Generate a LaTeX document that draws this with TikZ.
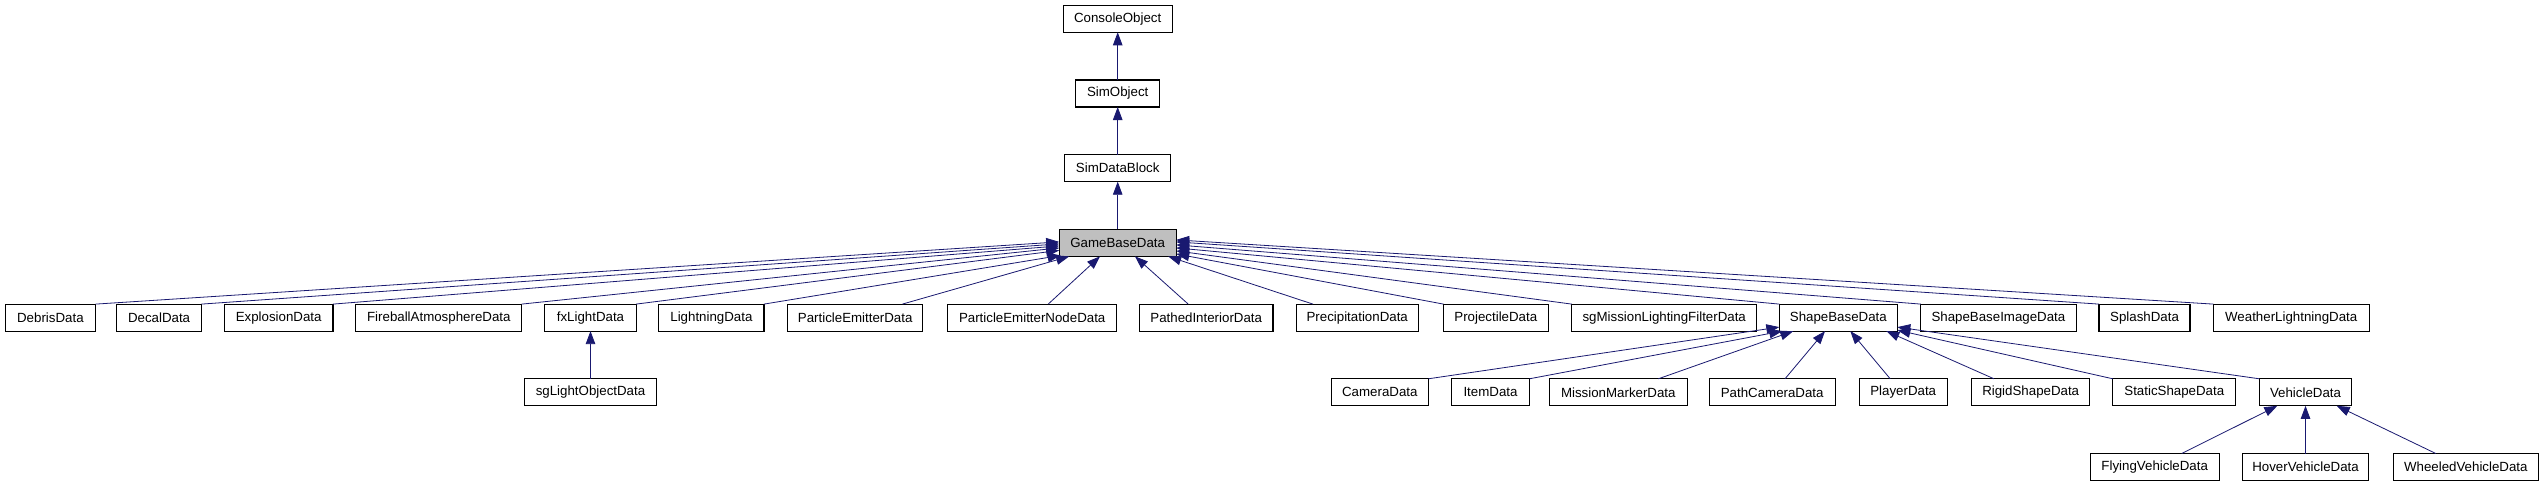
\documentclass[tikz,border=0pt]{standalone}
\usepackage{fontspec}
\setmainfont{Liberation Sans}
\usetikzlibrary{arrows.meta}
\definecolor{edgeblue}{HTML}{191970}
\definecolor{gbdgray}{HTML}{BFBFBF}
\tikzset{
  cls/.style={draw=black, line width=1.1pt, fill=white, minimum height=27pt,
    inner sep=0pt, outer sep=0pt, font=\fontsize{13.3}{16}\selectfont, anchor=center},
  inh/.style={draw=edgeblue, line width=0.8pt, -{Triangle[length=13pt,width=9.5pt]}}
}
\begin{document}
\begin{tikzpicture}[x=1pt,y=-1pt]
\useasboundingbox[fill=white] (0,0) rectangle (2545,485);
% row 0-3
\node[cls, minimum width=109pt] (console) at (1117.7,18.8) {ConsoleObject};
\node[cls, minimum width=84pt] (simobj) at (1117.7,93.5) {SimObject};
\node[cls, minimum width=106pt] (simdb) at (1117.7,168.2) {SimDataBlock};
\node[cls, minimum width=117pt, fill=gbdgray] (gbd) at (1117.7,242.9) {GameBaseData};
% row 4
\node[cls, minimum width=90.6pt] (debris) at (50.4,317.6) {DebrisData};
\node[cls, minimum width=84.8pt] (decal) at (159.1,317.6) {DecalData};
\node[cls, minimum width=108.5pt] (explosion) at (278.7,317.6) {ExplosionData};
\node[cls, minimum width=165.8pt] (fireball) at (438.8,317.6) {FireballAtmosphereData};
\node[cls, minimum width=91.2pt] (fxlight) at (590.5,317.6) {fxLightData};
\node[cls, minimum width=105.2pt] (lightning) at (711.4,317.6) {LightningData};
\node[cls, minimum width=135.2pt] (pemit) at (855.2,317.6) {ParticleEmitterData};
\node[cls, minimum width=169.1pt] (penode) at (1032.2,317.6) {ParticleEmitterNodeData};
\node[cls, minimum width=133.6pt] (pathed) at (1206.2,317.6) {PathedInteriorData};
\node[cls, minimum width=122pt] (precip) at (1357.2,317.6) {PrecipitationData};
\node[cls, minimum width=104.7pt] (projectile) at (1495.8,317.6) {ProjectileData};
\node[cls, minimum width=185pt] (sgmission) at (1664.2,317.6) {sgMissionLightingFilterData};
\node[cls, minimum width=118pt] (shapebase) at (1838.3,317.6) {ShapeBaseData};
\node[cls, minimum width=155.3pt] (sbimage) at (1998.4,317.6) {ShapeBaseImageData};
\node[cls, minimum width=91pt] (splash) at (2144.5,317.6) {SplashData};
\node[cls, minimum width=155.7pt] (weather) at (2291.2,317.6) {WeatherLightningData};
% row 5
\node[cls, minimum width=132.3pt] (sglight) at (590.5,392.3) {sgLightObjectData};
\node[cls, minimum width=97pt] (camera) at (1379.8,392.3) {CameraData};
\node[cls, minimum width=77.7pt] (item) at (1490.5,392.3) {ItemData};
\node[cls, minimum width=138pt] (mmarker) at (1618.3,392.3) {MissionMarkerData};
\node[cls, minimum width=125.7pt] (pathcam) at (1772.2,392.3) {PathCameraData};
\node[cls, minimum width=88pt] (player) at (1903.2,392.3) {PlayerData};
\node[cls, minimum width=118pt] (rigid) at (2030.7,392.3) {RigidShapeData};
\node[cls, minimum width=123pt] (static) at (2174.3,392.3) {StaticShapeData};
\node[cls, minimum width=92.4pt] (vehicle) at (2305.5,392.3) {VehicleData};
% row 6
\node[cls, minimum width=129pt] (flying) at (2154.7,467) {FlyingVehicleData};
\node[cls, minimum width=126pt] (hover) at (2305.5,467) {HoverVehicleData};
\node[cls, minimum width=145pt] (wheeled) at (2465.8,467) {WheeledVehicleData};
% chain
\draw[inh] (simobj.north) -- (console.south);
\draw[inh] (simdb.north) -- (simobj.south);
\draw[inh] (gbd.north) -- (simdb.south);
% left group
\draw[inh] (debris.north east) -- ([yshift=1pt]gbd.west);
\draw[inh] (decal.north east) -- ([yshift=-1pt]gbd.west);
\draw[inh] (explosion.north east) -- ([yshift=-3pt]gbd.west);
\draw[inh] (fireball.north east) -- ([yshift=-5pt]gbd.west);
\draw[inh] (fxlight.north east) -- ([yshift=-7.5pt]gbd.west);
\draw[inh] (lightning.north east) -- ([xshift=1.5pt,yshift=1pt]gbd.south west);
\draw[inh] ([xshift=-20.4pt]pemit.north east) -- ([xshift=10pt]gbd.south west);
\draw[inh] ([xshift=16pt]penode.north) -- ([xshift=-17.7pt]gbd.south);
\draw[inh] ([xshift=-18pt]pathed.north) -- ([xshift=17.3pt]gbd.south);
% right group
\draw[inh] ([xshift=16.7pt]precip.north west) -- ([xshift=-8pt]gbd.south east);
\draw[inh] (projectile.north west) -- ([yshift=-11pt]gbd.east);
\draw[inh] (sgmission.north west) -- ([yshift=-8pt]gbd.east);
\draw[inh] (shapebase.north west) -- ([yshift=-5pt]gbd.east);
\draw[inh] (sbimage.north west) -- ([yshift=-2pt]gbd.east);
\draw[inh] (splash.north west) -- ([yshift=1pt]gbd.east);
\draw[inh] (weather.north west) -- ([yshift=3pt]gbd.east);
% fxlight
\draw[inh] (sglight.north) -- (fxlight.south);
% shapebase children
\draw[inh] (camera.north east) -- ([yshift=4pt]shapebase.south west);
\draw[inh] (item.north east) -- ([xshift=3pt]shapebase.south west);
\draw[inh] ([xshift=-29pt]mmarker.north east) -- ([xshift=14pt]shapebase.south west);
\draw[inh] ([xshift=12.8pt]pathcam.north) -- ([xshift=-13.3pt]shapebase.south);
\draw[inh] ([xshift=-13pt]player.north) -- ([xshift=12pt]shapebase.south);
\draw[inh] ([xshift=-36.7pt]rigid.north) -- ([xshift=-11pt]shapebase.south east);
\draw[inh] (static.north west) -- ([yshift=1pt]shapebase.south east);
\draw[inh] (vehicle.north west) -- ([yshift=4pt]shapebase.south east);
% vehicle children
\draw[inh] ([xshift=27pt]flying.north) -- ([xshift=-28.2pt]vehicle.south);
\draw[inh] (hover.north) -- (vehicle.south);
\draw[inh] ([xshift=-30pt]wheeled.north) -- ([xshift=31.2pt]vehicle.south);
\end{tikzpicture}
\end{document}
